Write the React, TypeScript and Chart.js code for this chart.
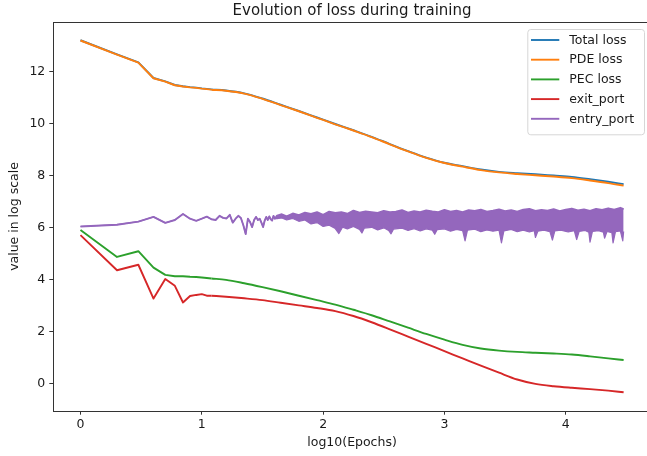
import React, { useEffect, useRef } from "react";
import { Chart, registerables } from "chart.js";

Chart.register(...registerables);

const TITLE = "Evolution of loss during training";
const X_LABEL = "log10(Epochs)";
const Y_LABEL = "value in log scale";

const seriesLabels = ["Total loss", "PDE loss", "PEC loss", "exit_port", "entry_port"];
const seriesColors = ["#1f77b4", "#ff7f0e", "#2ca02c", "#d62728", "#9467bd"];

const xTicks = [0, 1, 2, 3, 4];
const yTicks = [0, 2, 4, 6, 8, 10, 12];

// log10(epoch) positions for the smooth loss curves
const lossX = [0, 0.301, 0.477, 0.602, 0.699, 0.778, 0.845, 0.903, 0.954, 1.0, 1.041, 1.079, 1.2, 1.35, 1.5, 1.65, 1.8, 1.95, 2.1, 2.25, 2.4, 2.55, 2.7, 2.85, 3.0, 3.15, 3.3, 3.45, 3.6, 3.75, 3.9, 4.05, 4.2, 4.35, 4.477];
// x from which the curves are smooth
const SMOOTH_FROM = 1.079;

const totalLoss = [13.21, 12.67, 12.36, 11.76, 11.63, 11.49, 11.44, 11.41, 11.39, 11.36, 11.34, 11.32, 11.28, 11.17, 10.97, 10.73, 10.49, 10.24, 9.99, 9.75, 9.5, 9.22, 8.95, 8.7, 8.5, 8.37, 8.24, 8.15, 8.1, 8.06, 8.01, 7.96, 7.87, 7.77, 7.68];
const pdeLoss = [13.2, 12.66, 12.35, 11.75, 11.62, 11.48, 11.43, 11.4, 11.38, 11.35, 11.33, 11.31, 11.27, 11.16, 10.96, 10.72, 10.48, 10.23, 9.98, 9.74, 9.49, 9.21, 8.94, 8.69, 8.49, 8.35, 8.22, 8.13, 8.07, 8.02, 7.97, 7.91, 7.82, 7.72, 7.62];
const pecLoss = [5.92, 4.88, 5.1, 4.47, 4.19, 4.14, 4.14, 4.12, 4.11, 4.09, 4.07, 4.05, 4.0, 3.87, 3.72, 3.56, 3.39, 3.22, 3.05, 2.85, 2.64, 2.4, 2.16, 1.92, 1.7, 1.5, 1.36, 1.28, 1.23, 1.2, 1.17, 1.13, 1.06, 0.98, 0.92];
const exitPort = [5.72, 4.37, 4.58, 3.28, 4.03, 3.77, 3.13, 3.38, 3.42, 3.45, 3.39, 3.39, 3.35, 3.29, 3.22, 3.12, 3.02, 2.92, 2.8, 2.61, 2.37, 2.1, 1.82, 1.54, 1.26, 0.98, 0.7, 0.43, 0.17, 0.0, -0.09, -0.15, -0.2, -0.26, -0.32];

// entry_port: first epochs one by one
const entryEarlyEpochs = [1, 2, 3, 4, 5, 6, 7, 8, 9, 10, 11, 12, 13, 14, 15, 16, 17, 18, 19, 20, 21, 22, 23, 24, 25, 26, 27, 28, 29, 30, 31, 32, 33, 34, 35, 36, 37, 38, 39, 40];
const entryEarly = [6.05, 6.12, 6.24, 6.42, 6.19, 6.3, 6.53, 6.35, 6.27, 6.35, 6.43, 6.33, 6.3, 6.46, 6.38, 6.36, 6.5, 6.2, 6.35, 6.46, 6.38, 6.1, 5.76, 6.35, 6.22, 6.03, 6.3, 6.42, 6.3, 6.35, 6.2, 6.03, 6.28, 6.42, 6.3, 6.44, 6.33, 6.28, 6.46, 6.35];

// entry_port: dense oscillation band (upper and lower envelopes)
const entryUpX = [1.62, 1.66, 1.7, 1.75, 1.8, 1.85, 1.9, 1.95, 2.0, 2.05, 2.1, 2.15, 2.2, 2.25, 2.3, 2.35, 2.4, 2.45, 2.5, 2.55, 2.6, 2.65, 2.7, 2.75, 2.8, 2.85, 2.9, 2.95, 3.0, 3.05, 3.1, 3.15, 3.2, 3.25, 3.3, 3.35, 3.4, 3.45, 3.5, 3.55, 3.6, 3.65, 3.7, 3.75, 3.8, 3.85, 3.9, 3.95, 4.0, 4.05, 4.1, 4.15, 4.2, 4.25, 4.3, 4.35, 4.4, 4.45, 4.477];
const entryUpY = [6.47, 6.52, 6.44, 6.55, 6.49, 6.58, 6.53, 6.6, 6.5, 6.62, 6.57, 6.6, 6.54, 6.66, 6.58, 6.63, 6.6, 6.57, 6.65, 6.6, 6.62, 6.68, 6.58, 6.64, 6.6, 6.67, 6.63, 6.6, 6.69, 6.62, 6.66, 6.6, 6.68, 6.65, 6.7, 6.62, 6.66, 6.71, 6.64, 6.68, 6.62, 6.7, 6.73, 6.65, 6.69, 6.66, 6.72, 6.64, 6.7, 6.74, 6.67, 6.71, 6.65, 6.73, 6.69, 6.75, 6.7, 6.77, 6.72];
const entryLowX = [1.62, 1.66, 1.7, 1.75, 1.8, 1.85, 1.9, 1.95, 2.0, 2.05, 2.1, 2.13, 2.16, 2.2, 2.25, 2.3, 2.32, 2.34, 2.4, 2.45, 2.5, 2.54, 2.56, 2.58, 2.65, 2.7, 2.75, 2.8, 2.85, 2.9, 2.92, 2.94, 3.0, 3.05, 3.1, 3.15, 3.17, 3.19, 3.25, 3.3, 3.35, 3.4, 3.45, 3.47, 3.49, 3.55, 3.6, 3.65, 3.7, 3.74, 3.75, 3.77, 3.82, 3.87, 3.89, 3.91, 3.96, 4.02, 4.07, 4.09, 4.11, 4.16, 4.19, 4.2, 4.22, 4.27, 4.31, 4.32, 4.34, 4.38, 4.39, 4.41, 4.45, 4.47, 4.477];
const entryLowY = [6.35, 6.38, 6.3, 6.36, 6.25, 6.3, 6.15, 6.2, 6.05, 6.1, 5.97, 5.78, 6.02, 5.96, 6.05, 5.94, 5.8, 5.99, 6.02, 5.92, 6.0, 5.9, 5.77, 5.95, 5.99, 5.9, 5.97, 5.88, 5.96, 5.91, 5.75, 5.93, 5.96, 5.87, 5.94, 5.89, 5.5, 5.91, 5.95, 5.85, 5.92, 5.87, 5.91, 5.42, 5.88, 5.94, 5.85, 5.91, 5.84, 5.89, 5.63, 5.87, 5.91, 5.85, 5.53, 5.88, 5.91, 5.84, 5.89, 5.55, 5.86, 5.9, 5.83, 5.45, 5.86, 5.89, 5.83, 5.6, 5.86, 5.81, 5.42, 5.85, 5.88, 5.5, 5.86];

const pts = (xs: number[], ys: number[]) => xs.map((x, i) => ({ x, y: ys[i] }));

const FONT = "DejaVu Sans";
const TEXT = "#1a1a1a";
const SPINE = "#333333";

const decor = {
  id: "decor",
  afterDraw(chart: any) {
    const { ctx, chartArea: a } = chart;
    ctx.save();
    // axes frame
    const l = Math.round(a.left) + 0.5;
    const t = Math.round(a.top) + 0.5;
    const r = Math.round(a.right) + 0.5;
    const b = Math.round(a.bottom) + 0.5;
    ctx.strokeStyle = SPINE;
    ctx.lineWidth = 1;
    ctx.strokeRect(l, t, r - l, b - t);

    // title
    ctx.fillStyle = TEXT;
    ctx.font = `15px "${FONT}"`;
    ctx.textAlign = "center";
    ctx.textBaseline = "alphabetic";
    ctx.fillText(TITLE, (a.left + a.right) / 2, a.top - 7.5);

    // legend
    const bx = a.right - 123.5;
    const by = a.top + 6.7;
    const bw = 116.7;
    const bh = 105.3;
    ctx.beginPath();
    ctx.roundRect(bx + 0.5, by + 0.5, bw, bh, 3);
    ctx.fillStyle = "rgba(255,255,255,0.8)";
    ctx.fill();
    ctx.strokeStyle = "#d6d6d6";
    ctx.lineWidth = 1;
    ctx.stroke();
    ctx.font = `12.5px "${FONT}"`;
    ctx.textAlign = "left";
    ctx.textBaseline = "middle";
    seriesLabels.forEach((lab, i) => {
      const y = by + 11 + i * 19.7;
      ctx.strokeStyle = seriesColors[i];
      ctx.lineWidth = 1.9;
      ctx.beginPath();
      ctx.moveTo(bx + 3.7, y);
      ctx.lineTo(bx + 32, y);
      ctx.stroke();
      ctx.fillStyle = TEXT;
      ctx.fillText(lab, bx + 42, y + 0.5);
    });
    ctx.restore();
  },
};

export default function App() {
  const ref = useRef<HTMLCanvasElement | null>(null);

  useEffect(() => {
    if (!ref.current) return;
    const earlyX = entryEarlyEpochs.map((e) => Math.log10(e));
    const k = lossX.findIndex((x) => x >= SMOOTH_FROM);
    const lossSeries = [totalLoss, pdeLoss, pecLoss, exitPort];
    const lossDatasets: any[] = [];
    lossSeries.forEach((ys, i) => {
      const all = pts(lossX, ys);
      // sharp early part (straight segments between the first epochs)
      lossDatasets.push({
        label: seriesLabels[i],
        data: all.slice(0, k + 1),
        borderColor: seriesColors[i],
        order: 6 - i,
        fill: false,
        tension: 0,
      });
      // smooth later part
      lossDatasets.push({
        label: seriesLabels[i] + " (cont.)",
        data: all.slice(k),
        borderColor: seriesColors[i],
        order: 6 - i,
        fill: false,
        cubicInterpolationMode: "monotone",
      });
    });
    const chart = new Chart(ref.current, {
      type: "line",
      data: {
        datasets: [
          ...lossDatasets,
          {
            label: seriesLabels[4],
            data: [...pts(earlyX, entryEarly), ...pts(entryUpX, entryUpY)],
            borderColor: seriesColors[4],
            backgroundColor: seriesColors[4],
            fill: "+1",
            order: 2,
          },
          {
            label: seriesLabels[4] + " (low)",
            data: [...pts(earlyX, entryEarly), ...pts(entryLowX, entryLowY)],
            borderColor: seriesColors[4],
            borderWidth: 1.2,
            fill: false,
            order: 1,
          },
        ],
      },
      options: {
        animation: false,
        responsive: false,
        events: [],
        layout: { padding: { left: 0, top: 22.3, right: 9.2, bottom: 0 } },
        plugins: {
          legend: { display: false },
          title: { display: false },
          tooltip: { enabled: false },
        },
        elements: {
          point: { radius: 0 },
          line: { tension: 0, borderWidth: 1.9, borderJoinStyle: "round", borderCapStyle: "butt" },
        },
        scales: {
          x: {
            type: "linear",
            min: -0.224,
            max: 4.701,
            afterFit(s: any) {
              s.height = 45.3;
            },
            afterBuildTicks(s: any) {
              s.ticks = xTicks.map((v) => ({ value: v }));
            },
            grid: { drawOnChartArea: false, drawTicks: true, tickLength: 4, tickColor: SPINE, tickWidth: 1 },
            border: { display: false },
            ticks: {
              font: { family: FONT, size: 12.5 },
              color: TEXT,
              padding: 3,
              maxRotation: 0,
              autoSkip: false,
              callback: (v: any) => String(v),
            },
            title: {
              display: true,
              text: X_LABEL,
              font: { family: FONT, size: 12.5 },
              color: TEXT,
              padding: { top: 0, bottom: 5.5 },
            },
          },
          y: {
            type: "linear",
            min: -1.03,
            max: 13.9,
            afterFit(s: any) {
              s.width = 53.3;
            },
            afterBuildTicks(s: any) {
              s.ticks = yTicks.map((v) => ({ value: v }));
            },
            grid: { drawOnChartArea: false, drawTicks: true, tickLength: 4, tickColor: SPINE, tickWidth: 1 },
            border: { display: false },
            ticks: {
              font: { family: FONT, size: 12.5 },
              color: TEXT,
              padding: 4,
              autoSkip: false,
              callback: (v: any) => String(v),
            },
            title: {
              display: true,
              text: Y_LABEL,
              font: { family: FONT, size: 12.5 },
              color: TEXT,
              padding: { top: 7.5, bottom: 0 },
            },
          },
        },
      },
      plugins: [decor],
    });
    return () => chart.destroy();
  }, []);

  return (
    <div
      style={{
        position: "fixed",
        left: 0,
        top: 0,
        width: 647,
        height: 456,
        overflow: "hidden",
        background: "#ffffff",
      }}
    >
      <canvas ref={ref} width={660} height={456} style={{ display: "block", width: 660, height: 456 }} />
    </div>
  );
}
